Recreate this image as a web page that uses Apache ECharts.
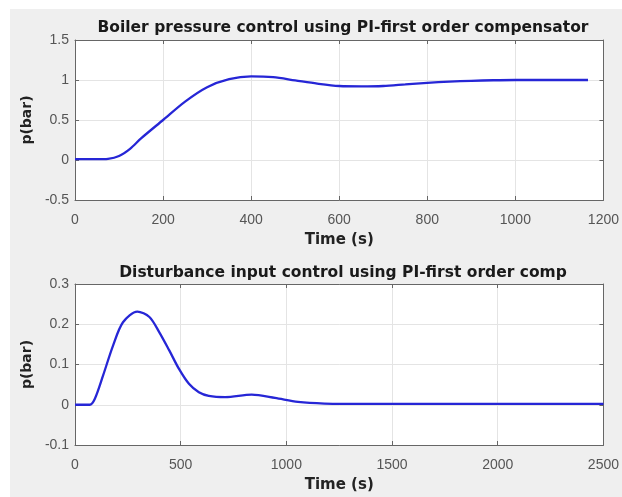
<!DOCTYPE html>
<html>
<head>
<meta charset="utf-8">
<script src="https://cdn.jsdelivr.net/npm/echarts@6/dist/echarts.min.js"></script>
<style>
  html, body { margin: 0; padding: 0; background: #fff; }
  #chart { width: 622px; height: 497px; }
</style>
</head>
<body>
<div id="chart"></div>
<script>
// top plot: boiler pressure step response
const boilerTime = [0, 50, 75, 100, 125, 150, 200, 250, 300, 350, 400, 450, 500, 550, 600, 650, 700, 750, 800, 850, 900, 950, 1000, 1100, 1165]
const boilerPressure = [0.01, 0.01, 0.015, 0.05, 0.14, 0.27, 0.50, 0.73, 0.91, 1.01, 1.045, 1.035, 0.995, 0.955, 0.925, 0.92, 0.925, 0.945, 0.965, 0.98, 0.99, 0.997, 1.0, 1.0, 1.0]

// bottom plot: disturbance response
const disturbTime = [0, 70, 94, 133, 180, 227, 295, 352, 399, 446, 492, 539, 586, 633, 711, 836, 946, 1055, 1180, 1400, 2000, 2500]
const disturbPressure = [0, 0, 0.015, 0.073, 0.147, 0.205, 0.2315, 0.218, 0.18, 0.135, 0.089, 0.052, 0.031, 0.022, 0.019, 0.025, 0.017, 0.007, 0.003, 0.002, 0.002, 0.002]

const titles = ['Boiler pressure control using PI-first order compensator', 'Disturbance input control using PI-first order comp']

const boldFont = 'DejaVu Sans, sans-serif'
const tickFont = 'Liberation Sans, Arial, sans-serif'
const lineColor = '#2626d6'

function pairs (xs, ys) {
  return xs.map((x, i) => [x, ys[i]])
}

function xAxisFor (gridIndex, max, interval, top) {
  return {
    type: 'value',
    gridIndex: gridIndex,
    position: top ? 'top' : 'bottom',
    min: 0,
    max: max,
    interval: interval,
    name: top ? '' : 'Time (s)',
    nameLocation: 'middle',
    nameGap: 33,
    nameTextStyle: { fontFamily: boldFont, fontWeight: 'bold', fontSize: 15, color: '#222' },
    axisLine: { show: true, onZero: false, lineStyle: { color: '#666', width: 1 } },
    axisTick: { show: true, inside: true, length: 4, lineStyle: { color: '#666' } },
    axisLabel: { show: !top, fontFamily: tickFont, fontSize: 14, color: '#555', margin: 13, formatter: v => String(v) },
    splitLine: { show: !top, lineStyle: { color: '#e4e4e4' } }
  }
}

function yAxisFor (gridIndex, min, max, interval, right) {
  return {
    type: 'value',
    gridIndex: gridIndex,
    position: right ? 'right' : 'left',
    min: min,
    max: max,
    interval: interval,
    name: right ? '' : 'p(bar)',
    nameLocation: 'middle',
    nameGap: 29,
    nameTextStyle: { fontFamily: boldFont, fontWeight: 'bold', fontSize: 14, color: '#222' },
    axisLine: { show: true, onZero: false, lineStyle: { color: '#666', width: 1 } },
    axisTick: { show: true, inside: true, length: 4, lineStyle: { color: '#666' } },
    axisLabel: { show: !right, fontFamily: tickFont, fontSize: 14, color: '#555', margin: 6, formatter: v => String(v) },
    splitLine: { show: !right, lineStyle: { color: '#e4e4e4' } }
  }
}

const option = {
  backgroundColor: '#fff',
  animation: false,
  graphic: [{
    type: 'rect',
    left: 10,
    top: 9,
    shape: { width: 612, height: 488 },
    style: { fill: '#efefef' },
    z: -10
  }],
  title: [
    { text: titles[0], left: 338, top: 15, textAlign: 'center', textStyle: { fontFamily: boldFont, fontWeight: 'bold', fontSize: 15.5, color: '#1a1a1a' } },
    { text: titles[1], left: 338, top: 260, textAlign: 'center', textStyle: { fontFamily: boldFont, fontWeight: 'bold', fontSize: 15.5, color: '#1a1a1a' } }
  ],
  grid: [
    { left: 75, top: 40, width: 533, height: 160, show: true, backgroundColor: '#fff', borderWidth: 0 },
    { left: 75, top: 284, width: 533, height: 161, show: true, backgroundColor: '#fff', borderWidth: 0 }
  ],
  xAxis: [
    xAxisFor(0, 1200, 200, false),
    xAxisFor(0, 1200, 200, true),
    xAxisFor(1, 2500, 500, false),
    xAxisFor(1, 2500, 500, true)
  ],
  yAxis: [
    yAxisFor(0, -0.5, 1.5, 0.5, false),
    yAxisFor(0, -0.5, 1.5, 0.5, true),
    yAxisFor(1, -0.1, 0.3, 0.1, false),
    yAxisFor(1, -0.1, 0.3, 0.1, true)
  ],
  series: [
    {
      type: 'line',
      xAxisIndex: 0,
      yAxisIndex: 0,
      data: pairs(boilerTime, boilerPressure),
      smooth: 0.3,
      showSymbol: false,
      lineStyle: { color: lineColor, width: 2.3 }
    },
    {
      type: 'line',
      xAxisIndex: 2,
      yAxisIndex: 2,
      data: pairs(disturbTime, disturbPressure),
      smooth: 0.3,
      showSymbol: false,
      lineStyle: { color: lineColor, width: 2.3 }
    }
  ]
}

const chart = echarts.init(document.getElementById('chart'))
chart.setOption(option)
</script>
</body>
</html>
